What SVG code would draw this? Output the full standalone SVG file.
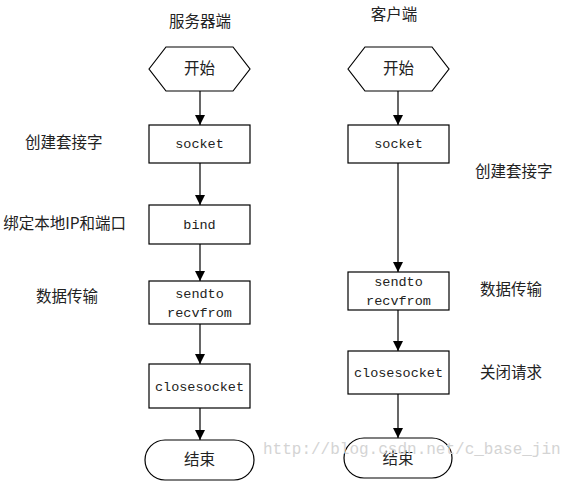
<svg xmlns="http://www.w3.org/2000/svg" width="570" height="490" viewBox="0 0 570 490">
<defs>
<marker id="ah" markerWidth="10" markerHeight="10" refX="10" refY="5" orient="auto" markerUnits="userSpaceOnUse">
<path d="M0,0 L10,5 L0,10 Z" fill="#000"/>
</marker>
<style>
.shape{fill:#fff;stroke:#000;stroke-width:1.2}
.code{font-family:"Liberation Mono","DejaVu Sans Mono",monospace;font-size:13.5px;fill:#222;text-anchor:middle}
.cn{font-family:"Noto Sans CJK SC","Noto Sans CJK JP",sans-serif;font-size:15.5px;fill:#222}
.mid{text-anchor:middle}
.conn{stroke:#000;stroke-width:1.2;fill:none;marker-end:url(#ah)}
.wm{font-family:"Liberation Mono",monospace;font-size:16px;fill:#d4d4d4}
</style>
</defs>
<rect width="570" height="490" fill="#fff"/>
<text class="cn mid" x="200" y="27">服务器端</text>
<text class="cn mid" x="394" y="20">客户端</text>

<g id="connectors">
<line class="conn" x1="200" y1="91" x2="200" y2="125"/>
<line class="conn" x1="200" y1="163" x2="200" y2="205"/>
<line class="conn" x1="200" y1="244" x2="200" y2="281"/>
<line class="conn" x1="200" y1="324" x2="200" y2="364"/>
<line class="conn" x1="200" y1="408" x2="200" y2="440"/>
<line class="conn" x1="398" y1="91" x2="398" y2="125"/>
<line class="conn" x1="398" y1="163" x2="398" y2="272"/>
<line class="conn" x1="398" y1="310" x2="398" y2="351"/>
<line class="conn" x1="398" y1="394" x2="398" y2="438"/>
</g>

<g id="s_start"><polygon class="shape" points="149,69 166,47 233,47 250,69 233,91 166,91"/><text class="cn mid" x="199.5" y="74">开始</text></g>
<g id="s_socket"><rect class="shape" x="149" y="125" width="101" height="38"/><text class="code" x="199.5" y="148">socket</text></g>
<g id="s_bind"><rect class="shape" x="149" y="205" width="101" height="39"/><text class="code" x="199.5" y="229">bind</text></g>
<g id="s_send"><rect class="shape" x="149" y="281" width="101" height="43"/><text class="code" x="199.5" y="298">sendto</text><text class="code" x="199.5" y="317">recvfrom</text></g>
<g id="s_close"><rect class="shape" x="149" y="364" width="101" height="44"/><text class="code" x="199.5" y="391">closesocket</text></g>
<g id="s_end"><rect class="shape" x="145" y="440" width="109" height="40" rx="20" ry="20"/><text class="cn mid" x="199.5" y="465">结束</text></g>

<g id="c_start"><polygon class="shape" points="348,69 365,47 432,47 449,69 432,91 365,91"/><text class="cn mid" x="398.5" y="74">开始</text></g>
<g id="c_socket"><rect class="shape" x="348" y="125" width="101" height="38"/><text class="code" x="398.5" y="148">socket</text></g>
<g id="c_send"><rect class="shape" x="348" y="272" width="101" height="38"/><text class="code" x="398.5" y="286">sendto</text><text class="code" x="398.5" y="305">recvfrom</text></g>
<g id="c_close"><rect class="shape" x="348" y="351" width="101" height="43"/><text class="code" x="398.5" y="377">closesocket</text></g>
<g id="c_end"><rect class="shape" x="344" y="438" width="108" height="40" rx="20" ry="20"/><text class="cn mid" x="398" y="464">结束</text></g>

<g id="labels">
<text class="cn" x="25" y="148">创建套接字</text>
<text class="cn" x="126" y="229" text-anchor="end">绑定本地IP和端口</text>
<text class="cn" x="36" y="302">数据传输</text>
<text class="cn" x="475" y="177">创建套接字</text>
<text class="cn" x="480" y="295">数据传输</text>
<text class="cn" x="480" y="378">关闭请求</text>
</g>
<text class="wm" x="263" y="454">http://blog.csdn.net/c_base_jin</text>
</svg>
